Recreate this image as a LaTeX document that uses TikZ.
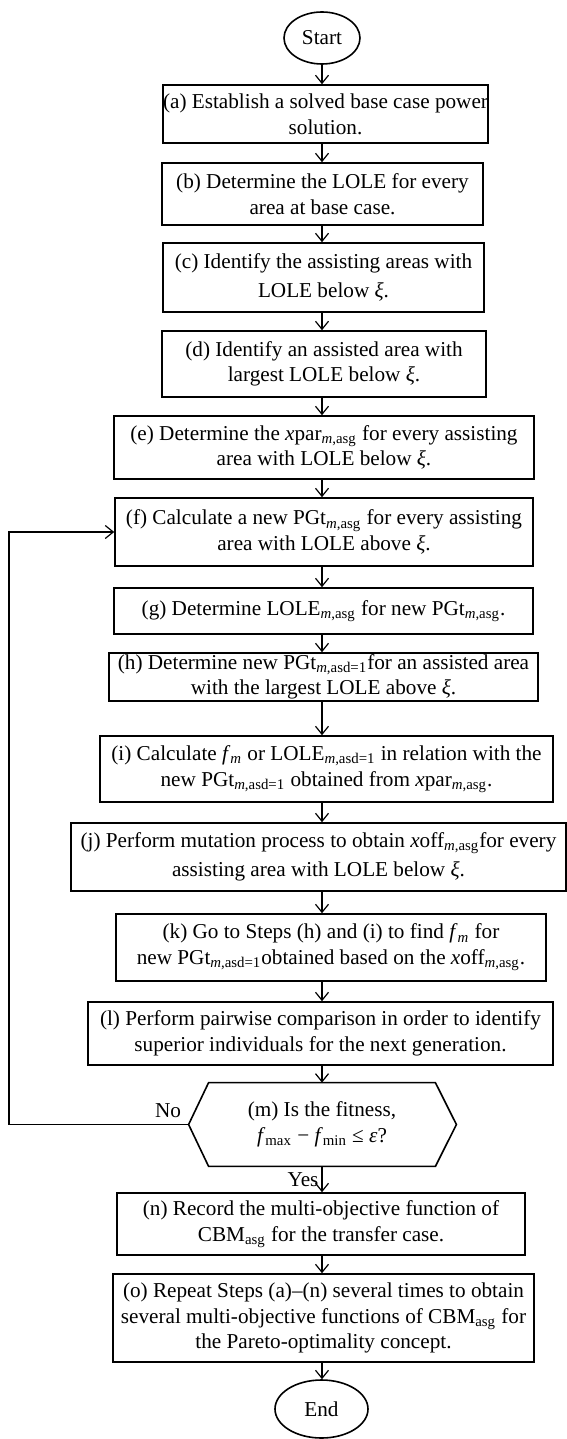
\documentclass[tikz,border=0pt]{standalone}
\usepackage{fontspec}
\setmainfont{Liberation Serif}
\usetikzlibrary{arrows.meta,calc,shapes.geometric}
% variables and subscripts set in text italic / small upright
\newcommand\vr[1]{\textit{#1}}
\newcommand\lo[1]{\textsubscript{#1}}
\newcommand\masg{\lo{\textit{m},asg}}
\newcommand\masd{\lo{\textit{m},asd=1}}
\newcommand\xii{\textit{ξ}}
\tikzset{
  txt/.style={font=\fontsize{10.6}{12.8}\selectfont, align=center, inner sep=0pt},
  box/.style={txt, draw, line width=0.8pt},
  term/.style={txt, draw, ellipse, line width=0.8pt},
  wh/.style 2 args={minimum width=#1*0.5pt, minimum height=#2*0.5pt},
  arr/.style={-{Straight Barb[length=4pt,width=6.5pt]}, line width=0.6pt}}
\begin{document}
\begin{tikzpicture}[x=0.5pt,y=-0.5pt]
\fill[white] (0,0) rectangle (567,1439);
\useasboundingbox (0,0) rectangle (567,1439);

% terminals
\node[term, wh={76}{52}] (start) at (322,38) {Start};
\node[term, wh={93}{58}] (end) at (321.5,1409) {End};

% process steps
\node[box, wh={325}{58}] (a) at (325.5,114) {(a) Establish a solved base case power\\solution.};
\node[box, wh={321}{62}] (b) at (322.5,194) {(b) Determine the LOLE for every\\area at base case.};
\node[box, wh={321}{69}] (c) at (323.5,277.5) {(c) Identify the assisting areas with\\[2pt]LOLE below \xii.};
\node[box, wh={324}{66}] (d) at (324,364) {(d) Identify an assisted area with\\largest LOLE below \xii.};
\node[box, wh={420}{63}] (e) at (324,447.5) {(e) Determine the \vr{x}par\masg{} for every assisting\\area with LOLE below \xii.};
\node[box, wh={418}{68}] (f) at (324,532) {(f) Calculate a new PGt\masg{} for every assisting\\area with LOLE above \xii.};
\node[box, wh={419}{46}] (g) at (323.5,611) {(g) Determine LOLE\masg{} for new PGt\masg.};
\node[box, wh={429}{48}] (h) at (323.5,677) {(h) Determine new PGt\masd for an assisted area\\with the largest LOLE above \xii.};
\node[box, wh={453}{66}] (i) at (326.5,769) {(i) Calculate \vr{f}\lo{\textit{m}} or LOLE\masd{} in relation with the\\new PGt\masd{} obtained from \vr{x}par\masg.};
\node[box, wh={495}{68}] (j) at (318.5,857) {(j) Perform mutation process to obtain \vr{x}off\masg for every\\[2pt]assisting area with LOLE below \xii.};
\node[box, wh={430}{67}] (k) at (331,947.5) {(k) Go to Steps (h) and (i) to find \vr{f}\lo{\textit{m}} for\\new PGt\masd obtained based on the \vr{x}off\masg.};
\node[box, wh={465}{63}] (l) at (320.5,1033.5) {(l) Perform pairwise comparison in order to identify\\superior individuals for the next generation.};

% decision
\node[txt, wh={226}{83}] (m) at (322,1124.5) {(m) Is the fitness,\\\vr{f}\lo{max} − \vr{f}\lo{min} ≤ \textit{ε}?};
\coordinate (mL) at ($(m.west)+(-20,0)$);
\coordinate (mR) at ($(m.east)+(21,0)$);
\draw[line width=0.8pt] (m.north west) -- (m.north east) -- (mR) -- (m.south east)
  -- (m.south west) -- (mL) -- cycle;

\node[box, wh={408}{62}] (n) at (321,1224) {(n) Record the multi-objective function of\\CBM\lo{asg} for the transfer case.};
\node[box, wh={421}{88}] (o) at (323.5,1318) {(o) Repeat Steps (a)–(n) several times to obtain\\several multi-objective functions of CBM\lo{asg} for\\the Pareto-optimality concept.};

% branch labels
\node[txt] (no) at (168,1111) {No};
\node[txt] (yes) at (303,1180) {Yes};

% main flow
\foreach \p/\q in {start/a, a/b, b/c, c/d, d/e, e/f, f/g, g/h, h/i, i/j, j/k, k/l, l/m, m/n, n/o, o/end}
  \draw[arr] (\p.south -| start.center) -- (\q.north -| start.center);

% loop back
\coordinate (lx) at (9,0);
\draw[arr] (mL) -- (mL -| lx) |- (f.west);
\end{tikzpicture}
\end{document}
